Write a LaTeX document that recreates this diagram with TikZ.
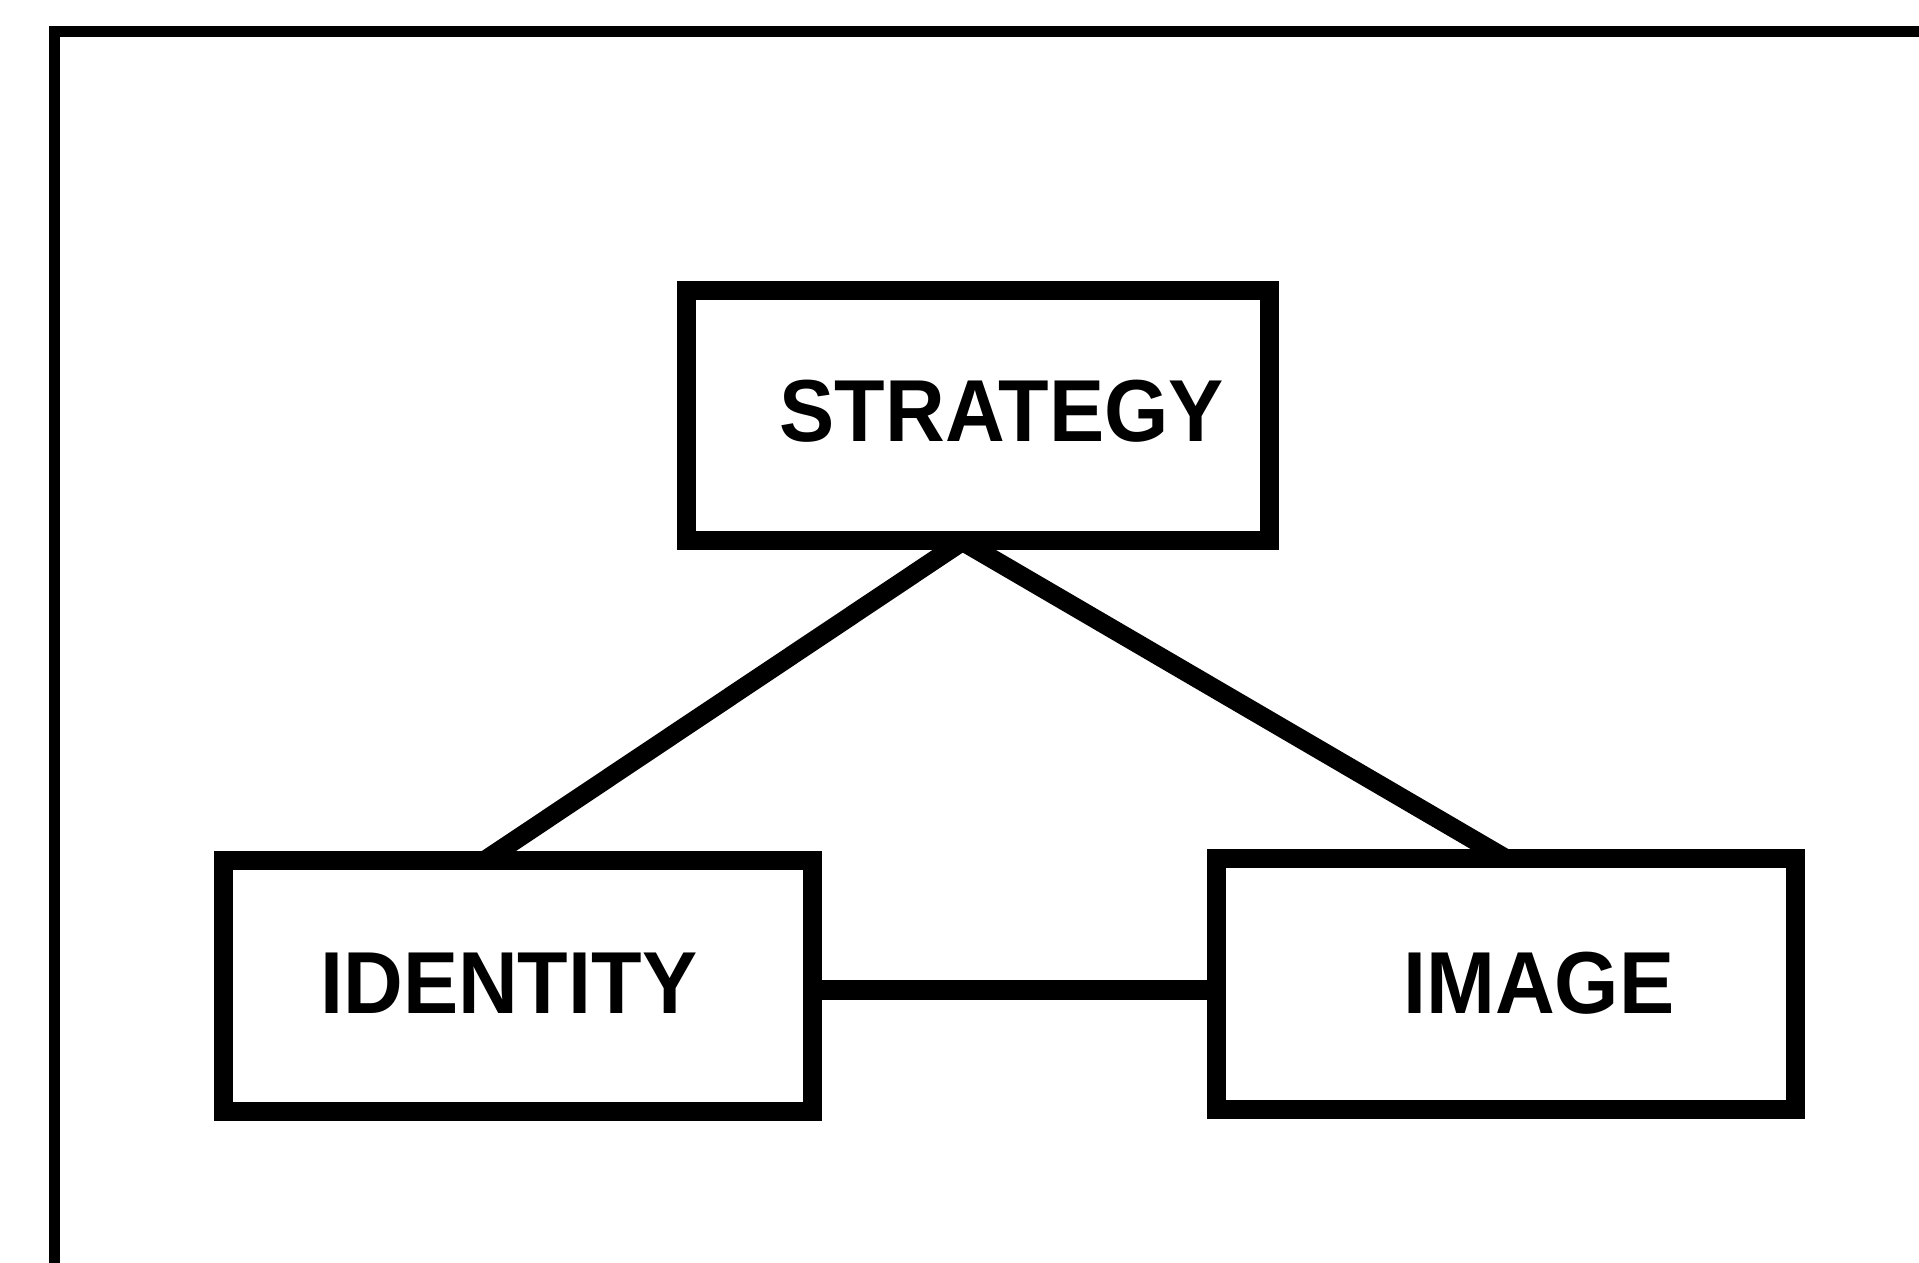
\documentclass[tikz,border=0pt]{standalone}
\usepackage{fontspec}
\usetikzlibrary{calc}
\newfontfamily\boxfont[FakeStretch=0.94]{Liberation Sans}
\pgfdeclarelayer{paper}
\pgfdeclarelayer{links}
\pgfsetlayers{paper,links,main}
\begin{document}
% one unit = 0.5pt, y grows downwards
\begin{tikzpicture}[x=0.5pt,y=-0.5pt,
  frameline/.style={line width=5.5pt,line join=miter},
  conceptbox/.style={draw,fill=white,line width=9.5pt,inner sep=0pt,
    font=\boxfont\bfseries\fontsize{44pt}{48pt}\selectfont},
  link/.style={line width=9.5pt},
  hlink/.style={line width=10pt}]
\useasboundingbox (0,0) rectangle (1919,1263);
\begin{pgfonlayer}{paper}
\fill[white] (0,0) rectangle (1919,1263);
\end{pgfonlayer}

% open frame: top and left rules only
\coordinate (ftr) at (1919,32);
\coordinate (fc) at (54,32);
\coordinate (fbl) at (54,1263);
\draw[frameline] (ftr) -- (fc) -- (fbl);

% the three concepts
\node[conceptbox,minimum width=291.25pt,minimum height=125pt] (s) at (977.75,415)
  {\hspace*{24pt}\raisebox{4.5pt}{STRATEGY}};
\node[conceptbox,minimum width=294.75pt,minimum height=125.5pt] (id) at (517.75,985.5)
  {\hspace*{-9pt}\raisebox{2.5pt}{IDENTITY}};
\node[conceptbox,minimum width=289.75pt,minimum height=125.5pt] (im) at (1505.75,983.5)
  {\hspace*{33pt}\raisebox{0.75pt}{IMAGE}};

% connectors, tucked under the boxes
\begin{pgfonlayer}{links}
\draw[link] ($(s.south)+(-9.5,-12)$) -- ($(id.north)+(-36,12)$);
\draw[link] ($(s.south)+(-22,-12)$) -- ($(im.north)+(3.4,12)$);
\draw[hlink] ($(id.east)+(-10,4)$) -- ($(im.west)+(10,6)$);
\end{pgfonlayer}
\end{tikzpicture}
\end{document}
